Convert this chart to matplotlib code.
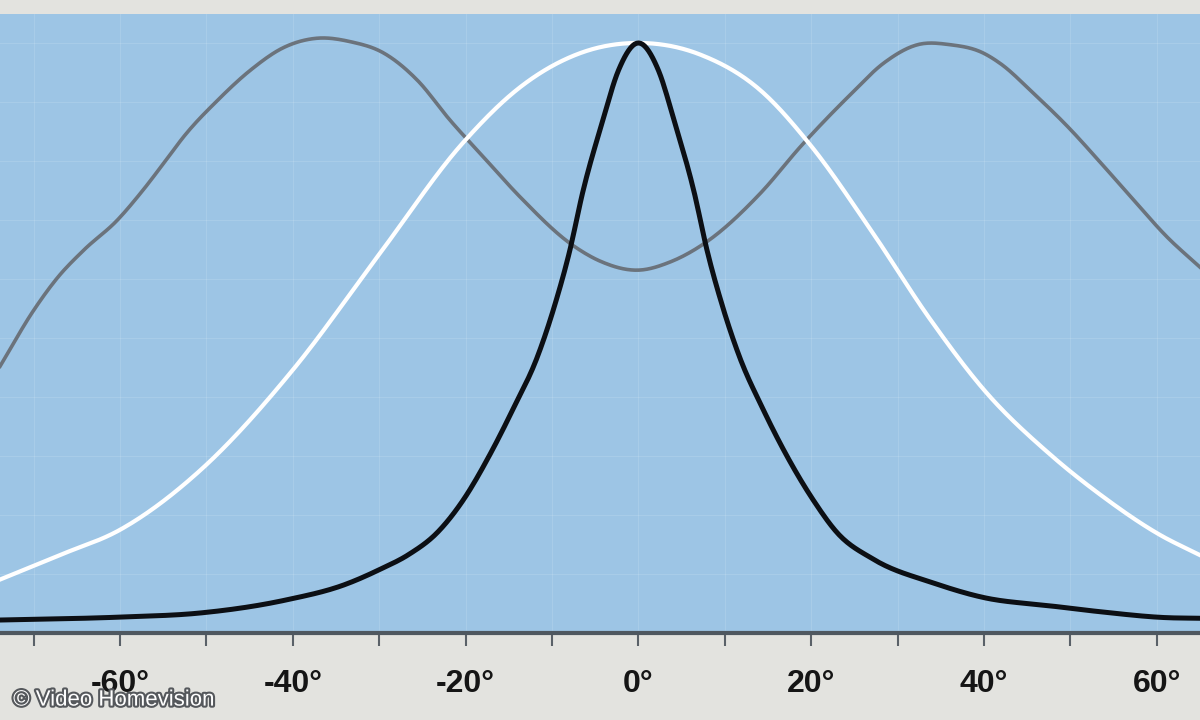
import numpy as np
import matplotlib
matplotlib.use("Agg")
import matplotlib.pyplot as plt
import matplotlib.patheffects as pe

# viewing angle in degrees, relative brightness (peak = 1)
angle_black = [-74, -60, -50.7, -40.8, -34, -29.9, -26.6, -23.3, -20.3, -17.1, -14.5, -11.7, -9.6, -8.0, -6.4, -4.2,
               -2.3, 0, 2.3, 4.2, 6.4, 8.0, 9.6, 11.7, 14.4, 17.0, 20.25, 23.0, 27.2, 34.1, 40, 47.7, 53.5, 61.2, 65]
level_black = [0.022, 0.027, 0.034, 0.056, 0.082, 0.108, 0.133, 0.170, 0.225, 0.305, 0.380, 0.468, 0.560, 0.645, 0.750,
               0.865, 0.954, 1.0, 0.954, 0.865, 0.750, 0.645, 0.560, 0.468, 0.380, 0.305, 0.225, 0.170, 0.125, 0.085,
               0.060, 0.046, 0.036, 0.026, 0.025]

angle_white = [-74, -67, -60, -50.7, -40, -29.9, -20.3, -13.7, -6.7, 0, 7.2, 14.1, 19.9, 26.9, 33.8, 40,
               47.7, 53.5, 60.4, 65]
level_white = [0.090, 0.132, 0.175, 0.276, 0.446, 0.644, 0.831, 0.925, 0.983, 1.0, 0.98, 0.92, 0.827, 0.683,
               0.531, 0.412, 0.302, 0.234, 0.166, 0.132]

angle_gray = [-73.9, -70.0, -67.2, -64.2, -60.3, -57.6, -54.5, -52.7, -48.7, -44.9, -41.1, -37.2, -33.3, -29.5, -25.6,
              -21.8, -17.9, -13.7, -7.5, -4.4, 0, 3.7, 7.8, 14.1, 18.8, 24.5, 28.4, 32.3, 36.1, 39.9, 41.9, 45.7,
              49.7, 53.5, 57.3, 61.2, 65]
level_gray = [0.452, 0.547, 0.603, 0.649, 0.700, 0.746, 0.805, 0.840, 0.903, 0.954, 0.992, 1.008, 1.002, 0.983, 0.937,
              0.869, 0.806, 0.739, 0.656, 0.630, 0.615, 0.629, 0.662, 0.745, 0.825, 0.912, 0.966, 0.997, 0.997, 0.983,
              0.965, 0.915, 0.858, 0.797, 0.734, 0.671, 0.620]

major_ticks = [-60, -40, -20, 0, 20, 40, 60]
major_labels = ["-60°", "-40°", "-20°", "0°", "20°", "40°", "60°"]
minor_ticks = [-70, -50, -30, -10, 10, 30, 50]


def smooth(xs, ys, n=600):
    # cubic hermite through the read points
    xs = np.asarray(xs, float)
    ys = np.asarray(ys, float)
    xx = np.linspace(xs[0], xs[-1], n)
    h = np.diff(xs)
    d = np.diff(ys) / h
    m = np.zeros_like(ys)
    m[1:-1] = (d[:-1] * h[1:] + d[1:] * h[:-1]) / (h[:-1] + h[1:])
    m[0], m[-1] = d[0], d[-1]
    idx = np.clip(np.searchsorted(xs, xx) - 1, 0, len(h) - 1)
    t = (xx - xs[idx]) / h[idx]
    h00 = 2*t**3 - 3*t**2 + 1
    h10 = t**3 - 2*t**2 + t
    h01 = -2*t**3 + 3*t**2
    h11 = t**3 - t**2
    yy = h00*ys[idx] + h10*h[idx]*m[idx] + h01*ys[idx+1] + h11*h[idx]*m[idx+1]
    return xx, yy


fig = plt.figure(figsize=(12, 7.2), dpi=100, facecolor="#e3e3df")
ax = fig.add_axes([0, 0.1208, 1, 0.8597])
ax.set_facecolor("#9dc5e5")

ax.set_xlim(-73.9, 65.0)
ax.set_ylim(0, 1.049)

for v in range(-70, 70, 10):
    ax.axvline(v, color="white", lw=0.8, alpha=0.12, zorder=1)
for v in np.arange(0.1, 1.05, 0.1):
    ax.axhline(v, color="white", lw=0.8, alpha=0.12, zorder=1)

ax.plot(*smooth(angle_gray, level_gray), color="#6b737c", lw=2.6, zorder=3)
ax.plot(*smooth(angle_white, level_white), color="white", lw=3.0, zorder=4)
ax.plot(*smooth(angle_black, level_black), color="#0c0f14", lw=3.6, zorder=5)

for s in ["top", "left", "right"]:
    ax.spines[s].set_visible(False)
ax.spines["bottom"].set_color("#4f5860")
ax.spines["bottom"].set_linewidth(3)

ax.set_yticks([])
ax.set_xticks(major_ticks)
ax.set_xticklabels(major_labels, fontfamily="Liberation Sans", fontweight="bold", fontsize=23, color="#151515")
ax.set_xticks(minor_ticks, minor=True)
ax.tick_params(axis="x", which="both", direction="out", length=9, width=1.5, color="#5a6168", pad=17)

fig.text(0.011, 0.02, "© Video Homevision", fontfamily="Liberation Sans", fontsize=16, color="white",
         path_effects=[pe.withStroke(linewidth=3, foreground="#55585c")])

fig.savefig("out.png", dpi=100, facecolor=fig.get_facecolor())
